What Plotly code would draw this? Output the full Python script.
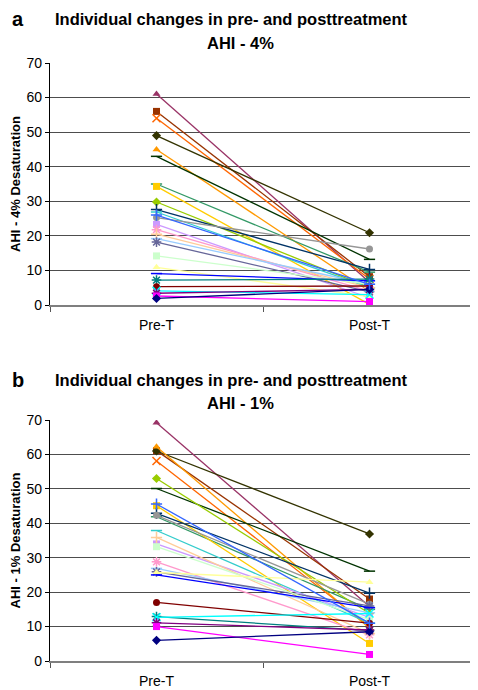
import plotly.graph_objects as go

# page has an 8px body margin: draw in a 470x682 figure and offset coordinates
OFF = 8
W, H = 478 - OFF, 690 - OFF

categories = ["Pre-T", "Post-T"]

series_names = [
    "S1", "S2", "S3", "S4", "S5", "S6", "S7", "S8", "S9", "S10",
    "S11", "S12", "S13", "S14", "S15", "S16", "S17", "S18", "S19", "S20",
    "S21", "S22", "S23", "S24", "S25", "S26", "S27",
]
series_colors = [
    "#993366", "#993300", "#FF6600", "#333300", "#FF9900", "#003300", "#339966",
    "#FFCC00", "#99CC00", "#003366", "#33CCCC", "#969696", "#CC99FF", "#FF99CC",
    "#FFCC99", "#99CCFF", "#666699", "#CCFFCC", "#FFFF99", "#0000FF", "#008080",
    "#800000", "#00FFFF", "#800080", "#FF00FF", "#000080", "#3366FF",
]
series_symbols = [
    "triangle-up", "square", "x-thin-open", "diamond", "triangle-up", "line-ew-open", "line-ew-open",
    "square", "diamond", "cross-thin-open", "line-ew-open", "circle", "square", "asterisk-open",
    "cross-thin-open", "line-ew-open", "asterisk-open", "square", "triangle-up", "line-ew-open", "asterisk-open",
    "circle", "x-thin-open", "asterisk-open", "square", "diamond", "cross-thin-open",
]

# Panel a: AHI - 4%
a_pre = [61, 56, 54, 49, 45, 43, 35, 34.3, 29.8, 27.6, 26.9, 25.3, 23.3, 21.8,
         20.5, 19.2, 18.2, 14.2, 10.9, 9.1, 7.2, 5.3, 4.1, 3.4, 2.6, 1.9, 26]
a_post = [6.6, 8.2, 7.5, 20.9, 4, 13.2, 9.5, 0.2, 5, 10.3, 5, 16.2, 2.1, 4,
          5, 6, 3.8, 6, 2.4, 7, 7.5, 5.5, 3, 4.5, 1, 4.5, 6]

# Panel b: AHI - 1%
b_pre = [69.2, 61.1, 58.1, 61, 62.2, 50.1, 41.9, 45.1, 53, 42.9, 37.9, 42.3, 34, 28.8,
         35.9, 26.9, 25.9, 33.2, 25.7, 25, 12.9, 17, 12.7, 11.1, 10, 6, 45.6]
b_post = [15.8, 18, 10, 36.9, 9.5, 26.1, 15, 5.1, 13.8, 19.7, 11, 16.5, 12.7, 7.6,
          8, 14, 16, 12, 22.9, 15.5, 8.8, 11, 13.8, 9, 1.9, 8.5, 11]

fig = go.Figure()

for i, nm in enumerate(series_names):
    col = series_colors[i]
    sym = series_symbols[i]
    open_sym = sym.endswith("-open")
    mk = dict(symbol=sym, size=7 if not open_sym else 8, color=col,
              line=dict(color=col, width=1.5 if open_sym else 0))
    fig.add_trace(go.Scatter(x=categories, y=[a_pre[i], a_post[i]], mode="lines+markers",
                             line=dict(color=col, width=1.3), marker=mk,
                             xaxis="x", yaxis="y", showlegend=False, name=nm))
    fig.add_trace(go.Scatter(x=categories, y=[b_pre[i], b_post[i]], mode="lines+markers",
                             line=dict(color=col, width=1.3), marker=mk,
                             xaxis="x2", yaxis="y2", showlegend=False, name=nm))


def px_x(x):
    return (x - OFF) / W


def px_y(y):
    return 1 - (y - OFF) / H


xdom = [px_x(50), px_x(476)]
ya_dom = [px_y(305), px_y(63)]
yb_dom = [px_y(661), px_y(420)]

font = "Liberation Sans, Arial, sans-serif"


def xax(anchor):
    return dict(domain=xdom, anchor=anchor, type="category", range=[-0.5, 1.5],
                showgrid=False, showline=True, linecolor="#7f7f7f", linewidth=2,
                ticks="outside", tickson="boundaries", ticklen=5, tickcolor="#555",
                tickfont=dict(family=font, size=14, color="#000"),
                ticklabelstandoff=6, zeroline=False, automargin=False)


def yax(dom, anchor, title):
    return dict(domain=dom, anchor=anchor, range=[0, 70], dtick=10,
                showgrid=True, gridcolor="#4d4d4d", gridwidth=1.3,
                showline=True, linecolor="#000", linewidth=1.3,
                ticks="outside", ticklen=4, tickcolor="#000",
                tickfont=dict(family=font, size=14, color="#000"),
                title=dict(text=title, font=dict(family=font, size=13, color="#000"), standoff=6),
                zeroline=False, automargin=False)


fig.update_layout(
    width=W, height=H,
    margin=dict(l=0, r=0, t=0, b=0),
    paper_bgcolor="white", plot_bgcolor="white",
    xaxis=xax("y"), yaxis=yax(ya_dom, "x", "<b>AHI - 4% Desaturation</b>"),
    xaxis2=xax("y2"), yaxis2=yax(yb_dom, "x2", "<b>AHI - 1% Desaturation</b>"),
    showlegend=False,
)


def ann(text, x, y, size, xanchor="center"):
    fig.add_annotation(text=text, x=px_x(x), y=px_y(y), xref="paper", yref="paper",
                       showarrow=False, xanchor=xanchor, yanchor="middle",
                       font=dict(family=font, size=size, color="#000"))


ann("<b>a</b>", 10, 19, 20, "left")
ann("<b>Individual changes in pre- and posttreatment</b>", 231, 19, 16.5)
ann("<b>AHI - 4%</b>", 240, 43, 16.5)
ann("<b>b</b>", 10, 380, 20, "left")
ann("<b>Individual changes in pre- and posttreatment</b>", 231, 380, 16.5)
ann("<b>AHI - 1%</b>", 240, 403, 16.5)

fig.write_html("out.html")
